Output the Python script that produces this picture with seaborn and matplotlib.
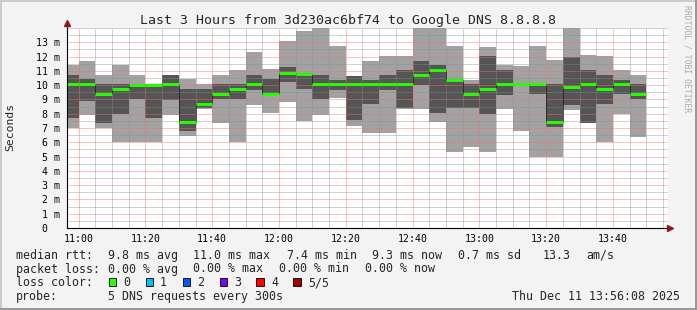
import matplotlib
matplotlib.use("Agg")
import numpy as np
import pandas as pd
import matplotlib.pyplot as plt
import matplotlib.dates as mdates
from matplotlib.ticker import MultipleLocator
from matplotlib.patches import Rectangle
import seaborn as sns

# ---------------- data ----------------
slot_start = ["10:55", "11:00", "11:05", "11:10", "11:15", "11:20", "11:25",
              "11:30", "11:35", "11:40", "11:45", "11:50", "11:55", "12:00",
              "12:05", "12:10", "12:15", "12:20", "12:25", "12:30", "12:35",
              "12:40", "12:45", "12:50", "12:55", "13:00", "13:05", "13:10",
              "13:15", "13:20", "13:25", "13:30", "13:35", "13:40", "13:45"]
# five sorted DNS pings per 5-minute slot (ms)
ping_min = [7.00, 7.94, 7.01, 6.03, 6.03, 6.03, 7.94, 6.45, 8.30, 7.36, 6.03, 8.60,
            8.06, 8.83, 7.50, 7.94, 9.08, 7.17, 6.66, 6.68, 8.34, 8.36, 7.43, 5.34,
            5.69, 5.34, 8.36, 6.81, 4.99, 4.99, 8.27, 7.34, 6.03, 8.00, 6.38]
ping_low = [7.70, 8.88, 7.36, 8.01, 9.05, 7.68, 8.95, 6.79, 8.38, 9.02, 9.02, 9.65,
            9.35, 10.20, 9.72, 9.02, 9.66, 7.56, 8.68, 9.66, 8.38, 10.00, 8.05, 8.38,
            8.38, 8.00, 9.31, 10.03, 9.40, 7.09, 8.60, 7.37, 8.67, 9.41, 9.02]
ping_median = [10.05, 10.05, 9.39, 9.72, 10.04, 10.04, 10.05, 7.42, 8.69, 9.39, 9.72, 10.05,
               9.39, 10.84, 10.77, 10.05, 10.06, 10.06, 10.05, 10.05, 10.05, 10.74, 11.06, 10.36,
               9.38, 9.71, 10.08, 10.07, 10.07, 7.42, 9.90, 10.05, 9.72, 10.05, 9.40]
ping_high = [10.70, 10.42, 10.05, 10.05, 10.08, 10.08, 10.68, 9.72, 9.71, 10.05, 10.05, 10.70,
             10.42, 11.28, 10.82, 10.70, 10.36, 10.64, 10.36, 10.70, 11.05, 11.68, 11.41, 10.42,
             10.08, 12.03, 11.06, 10.11, 10.09, 10.05, 11.98, 11.05, 10.70, 10.35, 10.05]
ping_max = [11.40, 11.68, 10.70, 11.40, 10.70, 10.10, 10.72, 10.42, 10.06, 10.70, 11.05, 12.33,
            11.12, 13.08, 13.78, 14.00, 12.75, 10.67, 11.69, 12.03, 12.03, 14.00, 14.00, 12.73,
            10.36, 12.66, 11.38, 11.34, 12.74, 11.75, 14.00, 12.10, 12.04, 11.05, 10.70]

y_tick_values = list(range(14))
y_tick_labels = ["0\u00a0\u00a0"] + [f"{v} m" for v in range(1, 14)]

title = "Last 3 Hours from 3d230ac6bf74 to Google DNS 8.8.8.8"
legend_rows = [
    [("median rtt:", 16), ("9.8 ms avg", 107.6), ("11.0 ms max", 193.3), ("7.4 ms min", 286.7),
     ("9.3 ms now", 372.4), ("0.7 ms sd", 457.8), ("13.3", 543), ("am/s", 586.7)],
    [("packet loss:", 16), ("0.00 % avg", 107.6), ("0.00 % max", 193.3), ("0.00 % min", 279),
     ("0.00 % now", 365.3)],
    [("loss color:", 16)],
    [("probe:", 16), ("5 DNS requests every 300s", 107.6)],
]
loss_labels = ["0", "1", "2", "3", "4", "5/5"]
loss_colors = ["#26ff00", "#00b8ff", "#0059ff", "#7e00ff", "#ff0000", "#a00000"]
loss_box_x = [108.9, 145.8, 182.7, 220.0, 256.4, 293.3]
loss_text_x = [123.6, 160.0, 196.9, 234.2, 271.1, 308.0]
timestamp = "Thu Dec 11 13:56:08 2025"

# ---------------- style ----------------
sns.set_style("white")
plt.rcParams["font.family"] = ["DejaVu Sans Mono", "DejaVu Sans"]
plt.rcParams["lines.scale_dashes"] = False

W, H = 697, 310
def fx(x): return x / W
def fy(y): return 1 - y / H

fig = plt.figure(figsize=(W / 100, H / 100), dpi=100, facecolor="#f3f3f3")
ax = fig.add_axes([fx(67), fy(228), 601 / W, 200 / H])
ax.set_facecolor("white")

day = "2025-12-11 "
x = mdates.date2num(pd.to_datetime([day + t for t in slot_start]))
w = 5 / 1440.0
mn, lo, md, hi, mx = map(np.array, (ping_min, ping_low, ping_median, ping_high, ping_max))

ax.bar(x, mx - mn, bottom=mn, width=w, align="edge", color="#a2a2a2", lw=0, zorder=1)
ax.bar(x, hi - lo, bottom=lo, width=w, align="edge", color="#555555", lw=0, zorder=2)

xs = np.append(x, x[-1] + w)
ys = np.append(md, md[-1])
sns.lineplot(x=xs, y=ys, drawstyle="steps-post", color="black", alpha=0.6, lw=0.72,
             linestyle=(0, (0.72, 0.72)), antialiased=False, ax=ax, zorder=3, legend=False)
ax.hlines(md, x, x + w, colors="#26ff00", lw=2.1, zorder=4)

# axes ranges
t0 = mdates.date2num(pd.Timestamp(day + "10:56:30"))
t1 = mdates.date2num(pd.Timestamp(day + "13:56:30"))
ax.set_xlim(t0, t1)
ax.set_ylim(0, 14.0)
ax.set_xlabel("")
ax.set_ylabel("")

ax.xaxis.set_major_locator(mdates.MinuteLocator(byminute=[0, 20, 40]))
ax.xaxis.set_minor_locator(mdates.MinuteLocator(byminute=range(0, 60, 5)))
ax.xaxis.set_major_formatter(mdates.DateFormatter("%H:%M"))
ax.set_yticks(y_tick_values, y_tick_labels)
ax.yaxis.set_minor_locator(MultipleLocator(0.5))

ax.set_axisbelow(False)
ax.grid(which="minor", color="#8c8c8c", alpha=0.4, ls=(0, (0.72, 0.72)), lw=0.72,
        antialiased=False)
ax.grid(which="major", color="#ff6a6a", alpha=0.42, ls=(0, (0.72, 0.72)), lw=0.72,
        antialiased=False)

for s in ("top", "right"):
    ax.spines[s].set_visible(False)
for s in ("bottom", "left"):
    ax.spines[s].set_color("#000000")
    ax.spines[s].set_linewidth(0.8)
    ax.spines[s].set_zorder(5)

ax.tick_params(axis="both", which="major", labelsize=7.1, length=2.5, width=0.6,
               color="#333333", direction="out", labelcolor="black")
ax.tick_params(axis="both", which="minor", length=1.5, width=0.6, color="#333333",
               direction="out")
ax.tick_params(axis="x", which="major", pad=1.5)
ax.tick_params(axis="y", which="major", pad=2.5)

# axis arrows
ax.plot([0, 0], [1, 1.02], color="black", lw=0.8, transform=ax.transAxes, clip_on=False, zorder=6)
ax.plot([0], [1.025], marker="^", ms=4, color="#8b1a1a", transform=ax.transAxes,
        clip_on=False, zorder=7)
ax.plot([1.004], [0], marker=">", ms=4, color="#8b1a1a", transform=ax.transAxes,
        clip_on=False, zorder=7)

# texts
fig.text(fx(348), fy(24), title, ha="center", va="baseline", fontsize=9.55)
fig.text(fx(10), fy(127), "Seconds", rotation=90, ha="center", va="center", fontsize=8.2)
fig.text(fx(687), fy(5), "RRDTOOL / TOBI OETIKER", rotation=-90, ha="center", va="top",
         fontsize=5.75, color="#aaaaaa")

baselines = [259, 272.5, 286.5, 300]
for row, yb in zip(legend_rows, baselines):
    for txt, xp in row:
        fig.text(fx(xp), fy(yb), txt, ha="left", va="baseline", fontsize=8.35)
for lab, col, bx, tx in zip(loss_labels, loss_colors, loss_box_x, loss_text_x):
    fig.add_artist(Rectangle((fx(bx), fy(286)), 7.5 / W, 8 / H, facecolor=col,
                             edgecolor="black", lw=0.6, transform=fig.transFigure))
    fig.text(fx(tx), fy(286.5), lab, ha="left", va="baseline", fontsize=8.35)
fig.text(fx(680), fy(300), timestamp, ha="right", va="baseline", fontsize=8.35)

# 3-D frame
fig.add_artist(Rectangle((0, fy(2)), 1, 2 / H, color="#cbcbcb", transform=fig.transFigure, lw=0))
fig.add_artist(Rectangle((0, 0), 2 / W, 1, color="#cbcbcb", transform=fig.transFigure, lw=0))
fig.add_artist(Rectangle((0, 0), 1, 2 / H, color="#999999", transform=fig.transFigure, lw=0))
fig.add_artist(Rectangle((fx(W - 2), 0), 2 / W, 1, color="#999999", transform=fig.transFigure, lw=0))

fig.savefig("out.png", dpi=100, facecolor=fig.get_facecolor())
